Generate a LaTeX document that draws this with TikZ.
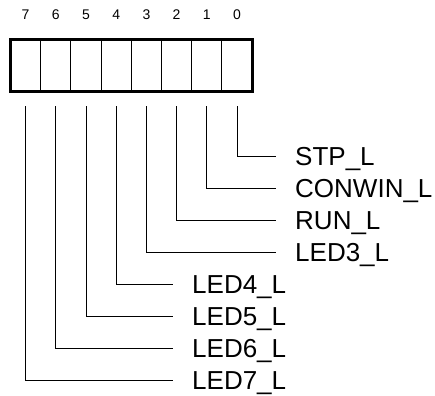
\documentclass[tikz,border=0pt]{standalone}
\usepackage{fontspec}
\setmainfont{Liberation Sans}
\usetikzlibrary{calc}

\begin{document}
\begin{tikzpicture}[x=1pt, y=-1pt,
    cell/.style={draw, line width=0.9pt, minimum width=30.2pt, minimum height=52pt, inner sep=0pt},
    bitnum/.style={font=\fontsize{14}{16}\selectfont, inner sep=0pt},
    signame/.style={font=\fontsize{26}{29}\selectfont, anchor=west, inner sep=0pt, text height=18.6pt, text depth=0pt},
    wire/.style={line width=0.9pt, shorten >=19pt}]
      \useasboundingbox (0,0) rectangle (435,395);
      % Register cells, bit 7 on the left
      \foreach \b in {7,...,0}{
        \node[cell] (c\b) at ({25.6+(7-\b)*30.2},65.5) {};
        \node[bitnum] (n\b) at ({25.6+(7-\b)*30.2},15) {\b};
      }
      \draw[line width=3pt] (c7.north west) rectangle (c0.south east);
      % Signal names (bit / name / row / text start)
      \foreach \b/\l/\y/\e in {0/STP\_L/156/295, 1/CONWIN\_L/188/295, 2/RUN\_L/220/295, 3/LED3\_L/252/295,
                               4/LED4\_L/284/192, 5/LED5\_L/316/192, 6/LED6\_L/348/192, 7/LED7\_L/380/192}{
        \node[signame] (s\b) at (\e,\y) {\l};
        \coordinate (t\b) at ($(c\b.south)+(0,14.5)$);
        \draw[wire] (t\b) |- (s\b.west);
      }
\end{tikzpicture}
\end{document}
